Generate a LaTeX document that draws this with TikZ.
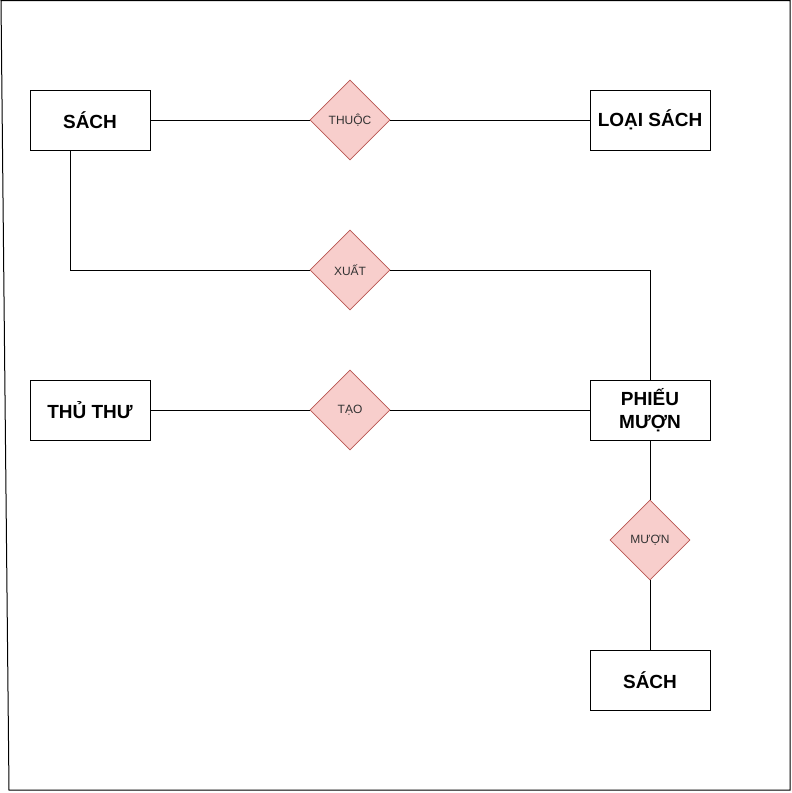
\documentclass[tikz,border=0pt]{standalone}
\usepackage{fontspec}
\setmainfont{Liberation Sans}
\usetikzlibrary{shapes.geometric,positioning}

\tikzset{
  entity/.style={draw=black,line width=1pt,fill=white,minimum width=120pt,minimum height=60pt,
    inner sep=2pt,align=center,font=\fontsize{19}{23}\selectfont\bfseries},
  relation/.style={diamond,draw={rgb,255:red,184;green,84;blue,80},fill={rgb,255:red,248;green,206;blue,204},
    line width=0.8pt,minimum width=80pt,minimum height=80pt,inner sep=0pt,
    text=black!80,font=\fontsize{12}{14}\selectfont}
}

\begin{document}
\begin{tikzpicture}[x=1pt,y=-1pt,line width=1pt,on grid]
  \useasboundingbox (0,0) rectangle (792,793);
  % khung ngoai
  \draw (1,0.5) -- (790,0.5) -- (790,790) -- (9,790) -- cycle;

  \node[entity] (sach) at (90,120)            {SÁCH};
  \node[relation] (thuoc) [right=260pt of sach]  {THUỘC};
  \node[entity] (loai) [right=300pt of thuoc]    {LOẠI SÁCH};
  \node[relation] (xuat) [below=150pt of thuoc]  {XUẤT};
  \node[entity] (thuthu) [below=290pt of sach]   {THỦ THƯ};
  \node[relation] (tao) [below=140pt of xuat]    {TẠO};
  \node[entity] (phieu) [below=290pt of loai]    {PHIẾU\\MƯỢN};
  \node[relation] (muon) [below=130pt of phieu]  {MƯỢN};
  \node[entity] (sach2) [below=140pt of muon]    {SÁCH};

  \draw (sach) -- (thuoc) -- (loai);
  \draw ([xshift=-20pt]sach.south) |- (xuat.west);
  \draw (xuat.east) -| (phieu.north);
  \draw (thuthu) -- (tao) -- (phieu);
  \draw (phieu) -- (muon) -- (sach2);
\end{tikzpicture}
\end{document}
